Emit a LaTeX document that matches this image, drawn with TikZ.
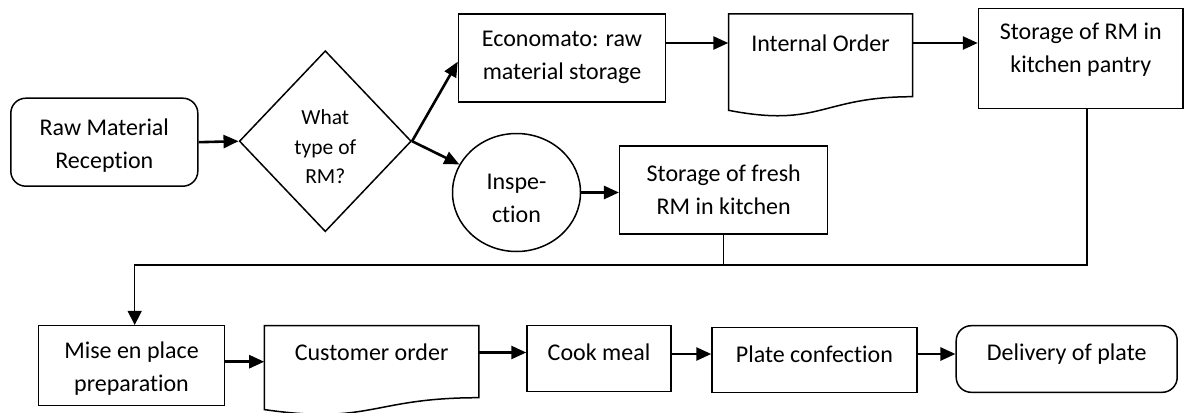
\documentclass[tikz,border=0pt]{standalone}
\usepackage{fontspec}
\setmainfont{Carlito}[Ligatures=NoCommon]
\usetikzlibrary{arrows.meta,shapes.geometric}
\begin{document}
\begin{tikzpicture}[x=1pt,y=-1pt,
  boxline/.style={draw=black,line width=1.5pt,inner sep=0pt},
  stepbox/.style={boxline,rectangle},
  roundbox/.style={boxline,rectangle,rounded corners=15pt},
  txt/.style={inner sep=0pt,align=center,font=\fontsize{24}{33}\selectfont},
  smalltxt/.style={inner sep=0pt,align=center,font=\fontsize{21.5}{29.5}\selectfont},
  flow/.style={line width=2.6pt,-{Triangle[length=15pt,width=13pt]}},
  thinflow/.style={line width=1.5pt,-{Triangle[length=14pt,width=14pt]}},
  conn/.style={line width=1.5pt}
]
\useasboundingbox (0,0) rectangle (1185,412);
% top row nodes
\node[roundbox,minimum width=187pt,minimum height=88pt] (rmr) at (104.3,142.2) {};
\node[txt] (rmrt) at (104.3,146) {Raw Material\\Reception};
\node[boxline,diamond,minimum width=172pt,minimum height=181pt] (dia) at (325.3,141.2) {};
\node[smalltxt] (diat) at (325.3,147) {What\\type of\\RM?};
\node[stepbox,minimum width=207pt,minimum height=88pt] (econo) at (562,58) {};
\node[txt] (econot) at (562,57) {Economato: raw\\material storage};
% internal order document shape
\node[inner sep=0pt,minimum width=184pt,minimum height=95pt] (io) at (820.5,61.5) {};
\draw[line width=1.5pt,line join=miter] (728.5,110.3) -- (728.5,14) -- (912.6,14) -- (912.6,96.7)
   .. controls (820.5,96.7) and (820.5,128.1) .. (728.5,110.3) -- cycle;
\node[txt] (iot) at (820.5,43) {Internal Order};
\node[stepbox,minimum width=204.5pt,minimum height=100pt] (pantry) at (1080.75,58.3) {};
\node[txt] (pantryt) at (1080.75,50) {Storage of RM in\\kitchen pantry};
\node[boxline,ellipse,minimum width=128pt,minimum height=118pt] (circ) at (516.5,192.5) {};
\node[txt] (circt) at (516.5,198) {Inspe-\\ction};
\node[stepbox,minimum width=208pt,minimum height=88.3pt] (fresh) at (723.7,190) {};
\node[txt] (fresht) at (723.7,189.5) {Storage of fresh\\RM in kitchen};
% bottom row nodes
\node[stepbox,minimum width=186.3pt,minimum height=80pt] (mise) at (131.5,365.7) {};
\node[txt] (miset) at (131.5,369) {Mise en place\\preparation};
\node[inner sep=0pt,minimum width=214.4pt,minimum height=84pt] (cust) at (371.6,367.7) {};
\draw[line width=1.5pt,line join=miter] (264.4,409.6) -- (264.4,325.7) -- (478.8,325.7) -- (478.8,397.7)
   .. controls (371.6,397.7) and (371.6,425) .. (264.4,409.6) -- cycle;
\node[txt] (custt) at (371.6,352.5) {Customer order};
\node[stepbox,minimum width=144pt,minimum height=66pt] (cook) at (599,358.7) {};
\node[txt] (cookt) at (599,352.5) {Cook meal};
\node[stepbox,minimum width=204.8pt,minimum height=64.6pt] (plate) at (814.4,360) {};
\node[txt] (platet) at (814.4,354) {Plate confection};
\node[roundbox,minimum width=221pt,minimum height=66.6pt] (deliv) at (1066.7,359) {};
\node[txt] (delivt) at (1066.7,354) {Delivery of plate};
% connectors
\coordinate (bend) at (600,265);
\draw[flow] (rmr.east) -- (dia.west);
\draw[flow] (dia.east) -- ([yshift=-3.7pt]econo.west);
\draw[flow] (dia.east) -- (circ);
\draw[flow] (circ.east) -- (circ.east -| fresh.west);
\draw[flow] (econo.east |- iot) -- (io.west |- iot);
\draw[flow] (912.6,43) -- (pantry.west |- iot);
\draw[conn] (fresh.south) -- (fresh.south |- bend);
\draw[thinflow] ([xshift=6.2pt]pantry.south) |- ([xshift=3.2pt]mise.north |- bend) -- ([xshift=3.2pt]mise.north);
\draw[flow] (mise.east |- 0,361.7) -- (cust.west |- 0,361.7);
\draw[flow] (478.8,352.5) -- (cook.west |- cookt);
\draw[flow] (cook.east |- platet) -- (plate.west |- platet);
\draw[flow] (plate.east |- platet) -- (deliv.west |- platet);
\end{tikzpicture}
\end{document}
